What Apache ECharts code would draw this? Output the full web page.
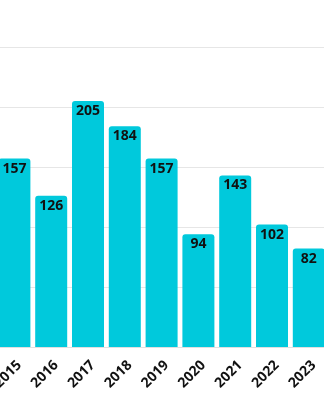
<!DOCTYPE html>
<html>
<head>
<meta charset="utf-8">
<script src="https://cdn.jsdelivr.net/npm/echarts@6/dist/echarts.min.js"></script>
<style>
html,body{margin:0;padding:0;background:#fff;overflow:hidden;width:324px;height:400px;}
#chart{position:absolute;left:-4px;top:0;width:368px;height:400px;}
</style>
</head>
<body>
<div id="chart"></div>
<script>
const categories = ['2015','2016','2017','2018','2019','2020','2021','2022','2023','2024'];
const values = [157, 126, 205, 184, 157, 94, 143, 102, 82, '-'];

const chart = echarts.init(document.getElementById('chart'), null, {renderer:'canvas'});
chart.setOption({
  animation: false,
  grid: {left: 0, right: 0, top: 47, bottom: 53, containLabel: false, outerBoundsMode: 'none'},
  xAxis: {
    type: 'category',
    data: categories,
    axisLine: {show: true, lineStyle: {color: '#e0e0e0'}},
    axisTick: {show: false},
    axisLabel: {
      rotate: 45, interval: 0, margin: 11,
      verticalAlign: 'top', lineHeight: 14,
      color: '#111', fontFamily: 'Open Sans', fontWeight: 'bold', fontSize: 14
    }
  },
  yAxis: {
    type: 'value', min: 0, max: 250, interval: 50,
    axisLabel: {show: false},
    axisLine: {show: false},
    axisTick: {show: false},
    splitLine: {lineStyle: {color: '#e6e6e6', width: 1}}
  },
  series: [{
    type: 'bar',
    data: values,
    barWidth: 32,
    itemStyle: {color: '#00c9dc', borderRadius: [3,3,0,0]},
    label: {
      show: true, position: 'insideTop', distance: 3,
      color: '#111', fontFamily: 'Open Sans', fontWeight: 'bold', fontSize: 14
    }
  }]
});
</script>
</body>
</html>
